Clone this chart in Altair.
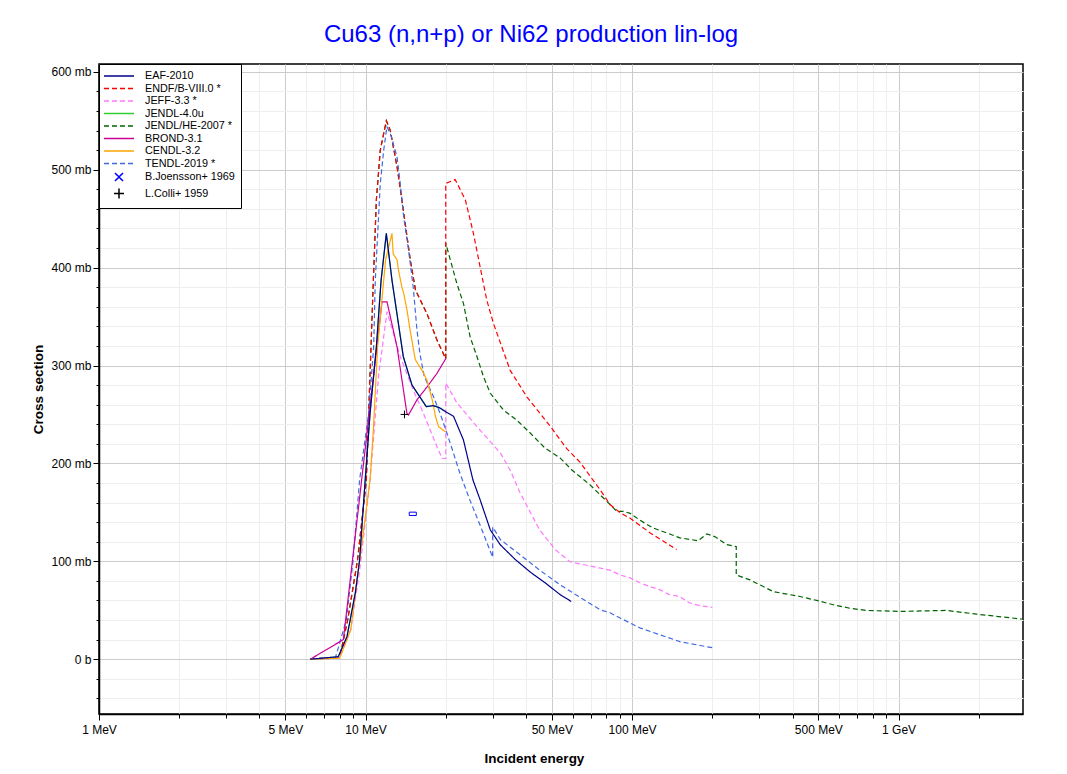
import altair as alt
import pandas as pd

# ---------------- series names, colours, styles ----------------
names = ["EAF-2010", "ENDF/B-VIII.0 *", "JEFF-3.3 *", "JENDL-4.0u", "JENDL/HE-2007 *",
         "BROND-3.1", "CENDL-3.2", "TENDL-2019 *", "B.Joensson+ 1969", "L.Colli+ 1959"]
colors = ["#00008b", "#ff0000", "#ff77ff", "#33cc33", "#006400",
          "#cc0099", "#ffa500", "#4169e1", "#0000ff", "#000000"]
dashed_names = ["ENDF/B-VIII.0 *", "JEFF-3.3 *", "JENDL/HE-2007 *", "TENDL-2019 *"]

# ---------------- evaluated data (E in MeV, sigma in mb) ----------------
eaf_E = [6.21, 7.9, 8.52, 9.16, 9.5, 9.97, 10.4, 10.98, 11.44, 11.97, 12.57, 13.86, 14.94,
         16.9, 17.95, 18.9, 20.2, 21.4, 23.3, 25.3, 26.9, 29.4, 32.0, 36.4, 41.5, 47.2, 53.7, 59.1]
eaf_s = [0, 2.5, 23, 68, 101, 183, 251, 319, 387, 435, 387, 309, 280,
         258, 259, 257, 252, 248, 224, 183, 163, 132, 117, 102, 89, 78, 66, 59]

endf_E = [6.21, 8.0, 8.57, 9.33, 10.07, 10.7, 10.98, 11.36, 11.97, 12.39, 13.13, 13.86, 14.72,
          15.4, 17.0, 18.54, 20.0, 20.0, 21.7, 23.7, 25.4, 26.9, 28.5, 30.2, 34.9, 40.3, 49.3,
          56.9, 63.9, 75.9, 82.7, 90.2, 98.4, 117, 147]
endf_s = [0, 2, 40, 101, 183, 387, 469, 520, 550, 540, 503, 459, 408,
          377, 353, 326, 307, 486, 490, 469, 435, 401, 367, 343, 295, 268, 238,
          215, 201, 173, 158, 149.5, 144, 129, 112]

jeff_E = [6.21, 8.0, 8.8, 9.5, 10.4, 11.2, 12.04, 13.5, 15.1, 16.5, 18.54, 19.4, 20.0, 20.0,
          22.0, 26.2, 32.1, 34.9, 38.0, 45.0, 51.5, 58.5, 75.9, 82.7, 90.2, 98.4, 107, 117,
          127, 138, 151, 164, 180, 200]
jeff_s = [0, 2, 30, 90, 183, 290, 355, 309, 275, 251, 217, 205, 205, 282,
          262, 237.5, 210.5, 193, 170, 132, 112, 99.5, 93, 91, 86, 83, 78, 74,
          71, 66, 64, 57.6, 54.6, 53]

jendl4_E = [6.21, 7.9, 8.52, 9.16, 9.5, 9.97, 10.4, 10.98, 11.44, 11.97, 12.57, 13.86, 14.94,
            16.9, 17.95, 18.9, 20.0]
jendl4_s = [0, 2.5, 23, 68, 101, 183, 251, 319, 387, 435, 387, 309, 280,
            258, 259, 257, 253]

jendlhe_E = [6.21, 8.0, 8.57, 9.33, 10.07, 10.7, 10.98, 11.36, 11.97, 12.39, 13.13, 13.86, 14.72,
             15.4, 17.0, 18.54, 20.0, 20.0, 20.8, 22.0, 23.3, 24.7, 26.2, 27.7, 29.4, 32.9, 37.0,
             41.5, 47.2, 53.7, 59.6, 69.6, 82.7, 87.7, 92.9, 98.4, 107, 120, 135, 151, 177, 191,
             205, 227, 246, 246, 277, 339, 427, 493, 569, 657, 759, 1012, 1514, 1963, 2900]
jendlhe_s = [0, 2, 40, 101, 183, 387, 469, 520, 550, 540, 503, 459, 408,
             377, 353, 326, 307, 425, 408, 384, 363.5, 329, 309, 288.6, 271.6, 254.6, 244,
             231, 215.5, 205.6, 193, 178, 158, 151, 151, 149, 142, 134, 129, 124, 121, 128,
             125, 117, 115, 86, 81, 69, 64, 60, 55.6, 52, 49.8, 48.8, 49.8, 46, 41]

brond_E = [6.21, 8.26, 11.53, 12.04, 13.13, 14.3, 14.5, 15.6, 17.0, 18.54, 20.0]
brond_s = [0, 20, 365, 365, 319, 251, 249.5, 265, 278, 292, 307]

cendl_E = [6.21, 8.0, 8.8, 10.4, 10.7, 11.1, 11.7, 11.9, 12.57, 12.7, 13.13, 13.3, 13.7, 13.9,
           14.3, 14.7, 15.37, 16.3, 17.0, 17.8, 18.3, 18.8, 20.0]
cendl_s = [0, 1, 30, 183, 234, 319, 387, 408, 435, 414, 408, 397, 380, 374,
           357, 336, 306, 295, 285, 265, 248, 237.5, 232]

tendl_E = [6.21, 7.7, 8.47, 8.98, 9.5, 10.27, 10.73, 10.88, 11.36, 11.7, 12.03, 12.39, 13.13,
           13.5, 13.9, 14.5, 15.1, 15.6, 16.0, 16.6, 18.0, 19.05, 20.2, 21.4, 22.6, 24.6, 26.9,
           30.0, 30.0, 32.1, 37.9, 45.0, 53.7, 63.9, 75.9, 82.7, 90.2, 98.4, 107, 127, 151, 180, 200]
tendl_s = [0, 1, 40, 101, 183, 251, 319, 387, 486, 520, 544, 537, 513,
           486, 452, 418, 380, 336, 312, 289, 268, 251, 231, 210, 190, 163, 137,
           104, 135, 122, 107, 91, 76, 63, 50.5, 47.4, 42, 37, 32, 25, 18, 14, 11.7]

# ---------------- experimental data ----------------
colli_E = [14.0]
colli_s = [250]
joensson_E = [15.05]
joensson_dE = [0.46]
joensson_s = [148.5]
joensson_ds = [1.7]

# ---------------- axis ticks ----------------
x_ticks = [1, 2, 3, 4, 5, 6, 7, 8, 9, 10, 20, 30, 40, 50, 60, 70, 80, 90,
           100, 200, 300, 400, 500, 600, 700, 800, 900, 1000, 2000]
x_major = [1, 5, 10, 50, 100, 500, 1000]
y_ticks = list(range(-40, 601, 20))

# ---------------- build tables ----------------
draw_order = [("JENDL-4.0u", jendl4_E, jendl4_s), ("JENDL/HE-2007 *", jendlhe_E, jendlhe_s),
              ("ENDF/B-VIII.0 *", endf_E, endf_s), ("JEFF-3.3 *", jeff_E, jeff_s),
              ("TENDL-2019 *", tendl_E, tendl_s), ("BROND-3.1", brond_E, brond_s),
              ("CENDL-3.2", cendl_E, cendl_s), ("EAF-2010", eaf_E, eaf_s)]
rows = []
for name, es, ss in draw_order:
    for i, (e, s) in enumerate(zip(es, ss)):
        rows.append({"series": name, "E": e, "sigma": s, "i": i})
lines_df = pd.DataFrame(rows)

colli_df = pd.DataFrame({"series": "L.Colli+ 1959", "E": colli_E, "sigma": colli_s})
joen_df = pd.DataFrame({
    "series": "B.Joensson+ 1969",
    "E_lo": [e - d for e, d in zip(joensson_E, joensson_dE)],
    "E_hi": [e + d for e, d in zip(joensson_E, joensson_dE)],
    "s_lo": [s - d for s, d in zip(joensson_s, joensson_ds)],
    "s_hi": [s + d for s, d in zip(joensson_s, joensson_ds)],
})

# ---------------- scales / axes / legend ----------------
FONT = "Liberation Sans"
xscale = alt.Scale(type="log", domain=[1, 2930], nice=False)
yscale = alt.Scale(domain=[-56, 608], nice=False, zero=False)

major_list = "[" + ",".join(str(v) for v in x_major) + "]"
x_major_test = f"indexof({major_list}, datum.value) >= 0"
x_label_expr = (f"datum.value == 1000 ? '1 GeV' : (indexof({major_list}, datum.value) >= 0 "
                f"? datum.value + ' MeV' : '')")

xaxis = alt.Axis(
    values=x_ticks, labelExpr=x_label_expr, grid=True,
    gridColor={"condition": {"test": x_major_test, "value": "#cccccc"}, "value": "#eeeeee"},
    gridWidth=1,
    tickSize={"condition": {"test": x_major_test, "value": 6}, "value": 4},
    tickColor="black", domainColor="black", domainWidth=1.5,
    labelFont=FONT, labelFontSize=12, labelColor="black", labelPadding=4,
    labelFlush=False, labelOverlap=False,
    title="Incident energy", titleFont=FONT, titleFontSize=13.5, titleFontWeight="bold",
    titleColor="black", titleX=435, titleY=44, titleBaseline="middle", titleAlign="center",
)
y_major_test = "datum.value % 100 == 0"
yaxis = alt.Axis(
    values=y_ticks,
    labelExpr="datum.value == 0 ? '0 b' : (datum.value % 100 == 0 ? datum.value + ' mb' : '')",
    grid=True,
    gridColor={"condition": {"test": y_major_test, "value": "#cccccc"}, "value": "#eeeeee"},
    gridWidth=1,
    tickSize={"condition": {"test": y_major_test, "value": 6}, "value": 3},
    tickColor="black", domainColor="black", domainWidth=1.5,
    labelFont=FONT, labelFontSize=12, labelColor="black", labelPadding=2, labelOverlap=False,
    title="Cross section", titleFont=FONT, titleFontSize=13.5, titleFontWeight="bold",
    titleColor="black", titleX=-61, titleY=325, titleAngle=-90,
    titleBaseline="middle", titleAlign="center",
)

LINE_SYM = "M-3,0L3,0"
CROSS_SYM = "M-0.8,-0.8L0.8,0.8M-0.8,0.8L0.8,-0.8"
PLUS_SYM = "M-1,0L1,0M0,-1L0,1"
shape_range = [CROSS_SYM if n == "B.Joensson+ 1969" else PLUS_SYM if n == "L.Colli+ 1959"
               else LINE_SYM for n in names]
dash_range = [[5, 3] if n in dashed_names else [1, 0] for n in names]

legend = alt.Legend(
    title=None, orient="top-left", offset=0, padding=6,
    strokeColor="black", fillColor="white",
    labelFont=FONT, labelFontSize=10.8, labelColor="black", labelLimit=300,
    symbolSize=100, symbolStrokeWidth=1.5, symbolOffset=8, labelOffset=20,
    symbolFillColor="transparent", rowPadding=1.5,
)

color_enc = alt.Color("series:N", scale=alt.Scale(domain=names, range=colors), legend=legend)
dash_enc = alt.StrokeDash("series:N", scale=alt.Scale(domain=names, range=dash_range),
                          legend=legend)
shape_enc = alt.Shape("series:N", scale=alt.Scale(domain=names, range=shape_range),
                      legend=legend)

lines = alt.Chart(lines_df).mark_line(strokeWidth=1.2, clip=True).encode(
    x=alt.X("E:Q", scale=xscale, axis=xaxis),
    y=alt.Y("sigma:Q", scale=yscale, axis=yaxis),
    color=color_enc,
    strokeDash=dash_enc,
    order=alt.Order("i:Q"),
)

joen = alt.Chart(joen_df).mark_rect(filled=False, strokeWidth=1).encode(
    x=alt.X("E_lo:Q", scale=xscale, axis=xaxis),
    x2="E_hi:Q",
    y=alt.Y("s_lo:Q", scale=yscale, axis=yaxis),
    y2="s_hi:Q",
    color=color_enc,
)

colli = alt.Chart(colli_df).mark_point(size=60, filled=False, strokeWidth=1, opacity=1).encode(
    x=alt.X("E:Q", scale=xscale, axis=xaxis),
    y=alt.Y("sigma:Q", scale=yscale, axis=yaxis),
    color=color_enc,
    shape=shape_enc,
)

chart = alt.layer(lines, joen, colli).properties(
    width=924, height=650,
    padding={"left": 91, "top": 56, "right": 36, "bottom": 52},
    autosize=alt.AutoSizeParams(type="none"),
    title=alt.TitleParams("Cu63 (n,n+p) or Ni62 production lin-log", color="#0000ff",
                          font=FONT, fontSize=24, fontWeight="normal", anchor="middle",
                          offset=17, dx=-30),
).configure(background="white").configure_view(stroke="black", strokeWidth=1.5)

chart.save("out.html", embed_options={"renderer": "svg", "actions": False})
